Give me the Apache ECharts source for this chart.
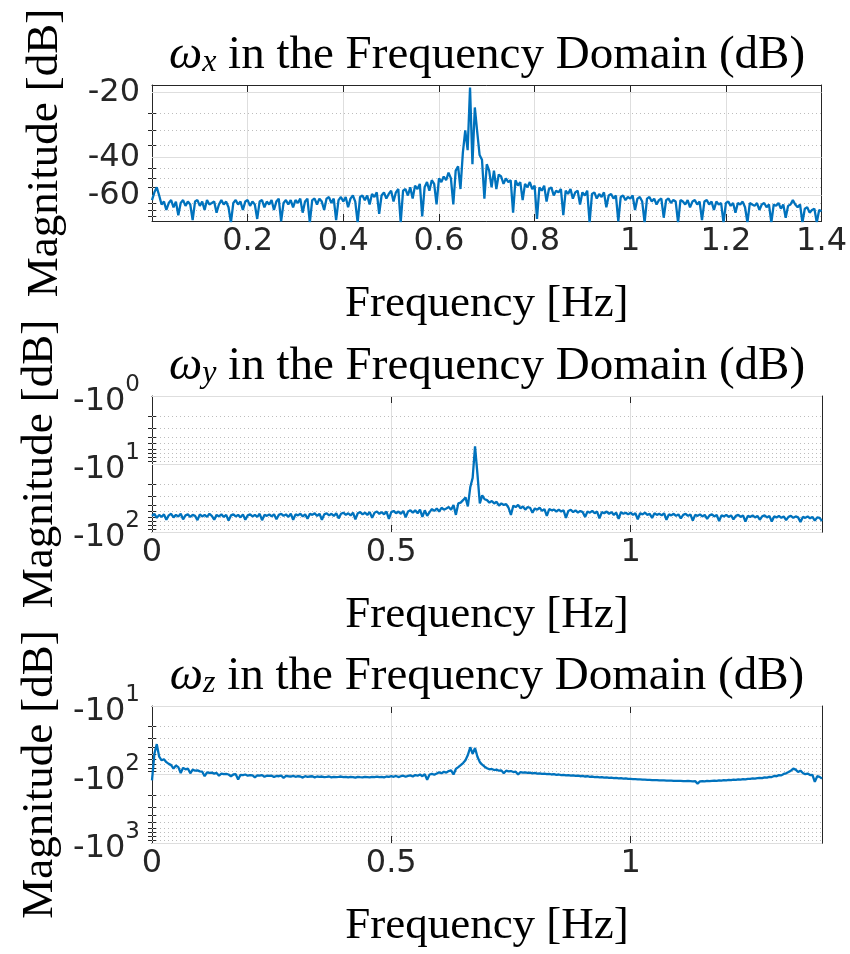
<!DOCTYPE html>
<html>
<head>
<meta charset="utf-8">
<script src="https://cdn.jsdelivr.net/npm/echarts@6/dist/echarts.min.js"></script>
<style>
html,body{margin:0;padding:0;background:#ffffff;}
#chart{width:850px;height:954px;}
</style>
</head>
<body>
<div id="chart"></div>
<script>
// ---------------- DATA ----------------
// frequency bin spacing (Hz)
const DF = 0.005;

// omega_x magnitude (dB), one value per frequency bin from 0 to 1.4 Hz
const wxDb = [
  -63, -58, -55, -60, -66, -64, -70, -65, -63, -68,
  -64, -74, -65, -63, -67, -64, -66, -78, -64, -63,
  -67, -64, -70, -63, -66, -65, -64, -72, -66, -63,
  -66, -64, -68, -80, -65, -63, -66, -64, -70, -64,
  -63, -67, -64, -66, -77, -64, -63, -68, -64, -66,
  -63, -70, -64, -62, -79, -65, -63, -66, -63, -68,
  -63, -65, -62, -72, -64, -62, -80, -63, -62, -66,
  -62, -64, -70, -62, -61, -65, -62, -78, -63, -61,
  -64, -61, -68, -62, -60, -64, -80, -61, -60, -63,
  -60, -66, -59, -61, -58, -73, -60, -58, -62, -59,
  -57, -64, -58, -56, -80, -57, -56, -60, -55, -62,
  -54, -56, -53, -75, -55, -52, -57, -51, -53, -66,
  -50, -52, -49, -51, -47, -50, -66, -46, -44, -56,
  -38, -30, -37, -19, -43, -23.5, -30.5, -39, -41, -62,
  -43, -46, -55, -46, -56, -48, -49, -53, -50, -52,
  -51, -72, -51, -54, -52, -63, -53, -55, -52, -56,
  -54, -77, -55, -57, -54, -64, -56, -55, -60, -57,
  -58, -56, -74, -57, -59, -56, -62, -58, -57, -66,
  -58, -60, -57, -80, -59, -58, -62, -59, -61, -58,
  -68, -60, -59, -62, -60, -79, -61, -60, -63, -61,
  -62, -60, -70, -62, -61, -64, -80, -62, -61, -64,
  -62, -66, -63, -62, -76, -63, -62, -65, -63, -64,
  -80, -63, -64, -66, -63, -68, -64, -63, -66, -64,
  -78, -64, -63, -66, -64, -70, -64, -66, -65, -80,
  -65, -64, -67, -65, -72, -65, -66, -64, -68, -80,
  -65, -66, -67, -65, -70, -66, -65, -68, -66, -80,
  -66, -67, -65, -69, -66, -76, -67, -66, -63, -66,
  -68, -66, -80, -69, -68, -72, -70, -69, -80, -70,
  -71
];

// omega_y magnitude (dB)
const wyDb = [
  -58, -54, -62, -56, -60, -55, -66, -57, -54, -61,
  -56, -59, -54, -65, -57, -55, -60, -56, -58, -67,
  -55, -59, -56, -60, -54, -58, -66, -56, -59, -55,
  -60, -56, -68, -57, -55, -59, -56, -61, -55, -66,
  -57, -55, -59, -56, -60, -54, -67, -56, -58, -55,
  -59, -55, -65, -56, -54, -58, -55, -60, -54, -66,
  -55, -57, -54, -59, -55, -64, -54, -56, -53, -58,
  -54, -66, -55, -53, -57, -54, -58, -53, -63, -54,
  -52, -56, -53, -57, -52, -65, -53, -51, -55, -52,
  -56, -51, -62, -52, -50, -54, -51, -55, -50, -64,
  -51, -49, -53, -50, -54, -49, -61, -50, -48, -52,
  -48, -53, -47, -60, -48, -58, -51, -46, -49, -45,
  -50, -44, -47, -45, -43, -47, -40, -56, -38, -37,
  -34, -31, -42, -22, -16, -5.5, -14, -38, -29, -33,
  -34, -37, -35, -38, -36, -41, -38, -40, -39, -44,
  -56, -41, -43, -40, -45, -42, -47, -43, -44, -52,
  -45, -47, -44, -49, -46, -58, -46, -48, -47, -50,
  -47, -50, -48, -62, -49, -47, -51, -48, -52, -49,
  -51, -60, -50, -52, -49, -53, -50, -63, -51, -53,
  -50, -54, -51, -56, -52, -64, -51, -54, -52, -55,
  -52, -56, -53, -65, -53, -55, -52, -56, -54, -62,
  -53, -56, -54, -57, -53, -66, -55, -57, -54, -58,
  -55, -63, -56, -54, -58, -55, -68, -56, -58, -55,
  -59, -56, -64, -57, -55, -59, -56, -69, -57, -59,
  -56, -60, -57, -65, -58, -56, -60, -57, -70, -58,
  -60, -57, -61, -58, -66, -59, -57, -61, -58, -70,
  -59, -61, -58, -62, -59, -67, -60, -58, -62, -59,
  -61, -71, -60, -62, -59, -63, -60, -68, -61, -62,
  -69
];

// omega_z magnitude (dB)
const wzDb = [
  -122, -50, -36, -55, -62, -60, -66, -70, -73, -82,
  -74, -78, -95, -80, -84, -82, -96, -85, -88, -87,
  -90, -91, -106, -93, -95, -94, -97, -95, -104, -97,
  -99, -98, -100, -106, -100, -99, -118, -101, -102, -100,
  -104, -102, -103, -110, -103, -104, -102, -108, -104, -105,
  -104, -109, -105, -106, -104, -112, -105, -106, -107, -105,
  -108, -106, -107, -111, -106, -108, -107, -106, -110, -107,
  -108, -107, -109, -108, -107, -110, -108, -109, -108, -107,
  -109, -108, -110, -108, -109, -111, -108, -109, -110, -108,
  -109, -110, -108, -109, -107, -109, -108, -110, -107, -108,
  -106, -108, -105, -109, -106, -104, -108, -105, -103, -107,
  -102, -104, -100, -106, -99, -119, -100, -98, -101, -97,
  -93, -96, -91, -94, -89, -87, -100, -83, -78, -73,
  -68, -62, -52, -40, -50, -41, -55, -66, -72, -77,
  -81, -84, -83, -86, -85, -88, -87, -96, -88, -90,
  -89, -92, -91, -100, -92, -94, -93, -95, -94, -96,
  -95, -97, -96, -98, -97, -99, -98, -100, -99, -101,
  -100, -102, -101, -103, -102, -104, -103, -105, -104, -106,
  -105, -107, -106, -108, -107, -109, -108, -110, -109, -111,
  -110, -112, -111, -113, -112, -114, -113, -115, -114, -116,
  -116, -117, -117, -118, -118, -119, -119, -120, -120, -121,
  -121, -121, -122, -122, -122, -123, -123, -123, -124, -124,
  -124, -124, -125, -125, -124, -125, -126, -125, -136, -126,
  -125, -126, -124, -125, -124, -123, -124, -122, -123, -121,
  -122, -120, -121, -119, -120, -118, -119, -117, -118, -116,
  -116, -114, -115, -113, -112, -113, -110, -111, -108, -109,
  -105, -106, -102, -103, -98, -96, -92, -88, -82, -85,
  -92, -88, -95, -99, -97, -102, -101, -128, -106, -108,
  -115
];

// subscripts of the three panel titles
const subscripts = ['x', 'y', 'z'];

// x tick labels (Hz)
const xTicksTop = [0.2, 0.4, 0.6, 0.8, 1, 1.2, 1.4];
const xTicksLow = [0, 0.5, 1];
const xRange = [0, 1.4];

// y ticks (dB, negative log axes)
const yMajorTop = [-20, -40, -60];
const yMinorTop = [-25, -30, -35, -45, -50, -55, -65, -70, -75];
const yRangeTop = [-18.5, -78.7];
const yMajorMid = [-1, -10, -100];
const yMinorMid = [-2, -3, -4, -5, -6, -7, -8, -9, -20, -30, -40, -50, -60, -70, -80, -90];
const yRangeMid = [-1, -100];
const yMajorBot = [-10, -100, -1000];
const yMinorBot = [-20, -30, -40, -50, -60, -70, -80, -90, -200, -300, -400, -500, -600, -700, -800, -900];
const yRangeBot = [-10, -1000];

// ---------------- STYLE / LAYOUT ----------------
const SANS = '"DejaVu Sans", "Liberation Sans", Arial, sans-serif';
const SERIF = '"Liberation Serif", "DejaVu Serif", serif';
const AX = '#262626';
const LINE = '#0072BD';
const GRID_MAJOR = '#dedede';
const GRID_MINOR = '#bdbdbd';
const TICK_FS = 32;
const NAME_FS = 45;
const TITLE_FS = 47;

const layout = [
  { top: 85, height: 136 },
  { top: 396, height: 136 },
  { top: 706, height: 137 }
];

const panels = [
  { sub: subscripts[0], db: wxDb, xTicks: xTicksTop, xInterval: 0.2, yMajor: yMajorTop, yMinor: yMinorTop, yRange: yRangeTop, pow: false },
  { sub: subscripts[1], db: wyDb, xTicks: xTicksLow, xInterval: 0.5, yMajor: yMajorMid, yMinor: yMinorMid, yRange: yRangeMid, pow: true },
  { sub: subscripts[2], db: wzDb, xTicks: xTicksLow, xInterval: 0.5, yMajor: yMajorBot, yMinor: yMinorBot, yRange: yRangeBot, pow: true }
];

const absArr = a => a.map(v => Math.abs(v));
const fmtX = v => String(+(+v).toFixed(2));
const fmtPlain = v => '-' + Math.round(v);
const fmtPow = v => '{b|-10}{s|' + Math.round(Math.log10(v)) + '}';

const grids = [], xAxes = [], yAxes = [], series = [], titles = [];

panels.forEach((p, k) => {
  const L = layout[k];
  grids.push({ left: 152, right: 28, top: L.top, height: L.height, containLabel: false });

  const xBase = { type: 'value', gridIndex: k, min: xRange[0], max: xRange[1], interval: p.xInterval };
  xAxes.push(Object.assign({}, xBase, {
    position: 'bottom',
    axisLine: { show: true, onZero: false, lineStyle: { color: AX, width: 1 } },
    axisTick: { show: true, inside: true, length: 7, customValues: p.xTicks, lineStyle: { color: AX, width: 1 } },
    axisLabel: { show: true, customValues: p.xTicks, formatter: fmtX, color: AX, fontFamily: SANS, fontSize: TICK_FS, margin: 5 },
    splitLine: { show: true, lineStyle: { color: GRID_MAJOR, width: 1 } },
    name: 'Frequency [Hz]', nameLocation: 'middle', nameGap: 61,
    nameTextStyle: { fontFamily: SERIF, fontSize: NAME_FS, color: '#000', lineHeight: 45 }
  }));
  xAxes.push(Object.assign({}, xBase, {
    position: 'top',
    axisLine: { show: true, onZero: false, lineStyle: { color: AX, width: 1 } },
    axisTick: { show: true, inside: true, length: 7, customValues: p.xTicks, lineStyle: { color: AX, width: 1 } },
    axisLabel: { show: false },
    splitLine: { show: false }
  }));

  const yBase = { type: 'log', logBase: 10, gridIndex: k, inverse: true,
                  min: Math.abs(p.yRange[0]), max: Math.abs(p.yRange[1]) };
  const major = absArr(p.yMajor), minor = absArr(p.yMinor);
  const rich = {
    b: { fontFamily: SANS, fontSize: TICK_FS, lineHeight: 32, padding: [12, 0, 0, 0], color: AX },
    s: { fontFamily: SANS, fontSize: 23, lineHeight: 23, padding: [0, 0, 21, 0], color: AX }
  };
  yAxes.push(Object.assign({}, yBase, {
    position: 'left',
    axisLine: { show: true, onZero: false, lineStyle: { color: AX, width: 1 } },
    axisTick: { show: true, inside: true, length: 7, customValues: major, lineStyle: { color: AX, width: 1 } },
    axisLabel: { show: true, customValues: major, formatter: p.pow ? fmtPow : fmtPlain, rich: rich,
                 color: AX, fontFamily: SANS, fontSize: TICK_FS, margin: 12 },
    splitLine: { show: false },
    name: 'Magnitude [dB]', nameLocation: 'middle', nameGap: 84, nameRotate: 90,
    nameTextStyle: { fontFamily: SERIF, fontSize: NAME_FS, color: '#000', lineHeight: 45 }
  }));
  yAxes.push(Object.assign({}, yBase, {
    position: 'left',
    axisLine: { show: false },
    axisTick: { show: true, inside: true, length: 4, customValues: minor, lineStyle: { color: AX, width: 1 } },
    axisLabel: { show: false }, splitLine: { show: false }
  }));
  yAxes.push(Object.assign({}, yBase, {
    position: 'right',
    axisLine: { show: true, onZero: false, lineStyle: { color: AX, width: 1 } },
    axisTick: { show: true, inside: true, length: 7, customValues: major, lineStyle: { color: AX, width: 1 } },
    axisLabel: { show: false }, splitLine: { show: false }
  }));
  yAxes.push(Object.assign({}, yBase, {
    position: 'right',
    axisLine: { show: false },
    axisTick: { show: true, inside: true, length: 4, customValues: minor, lineStyle: { color: AX, width: 1 } },
    axisLabel: { show: false }, splitLine: { show: false }
  }));

  const pts = p.db.map((v, i) => [+(i * DF).toFixed(3), Math.abs(v)]);
  const gridLines = []
    .concat(major.map(v => ({ yAxis: v, lineStyle: { type: 'solid', color: GRID_MAJOR, width: 1 } })))
    .concat(minor.map(v => ({ yAxis: v, lineStyle: { type: [1, 3], color: GRID_MINOR, width: 1 } })));

  series.push({
    type: 'line', name: 'omega_' + p.sub,
    xAxisIndex: 2 * k, yAxisIndex: 4 * k,
    data: pts, showSymbol: false, symbol: 'none', clip: true, z: 3,
    lineStyle: { color: LINE, width: 2.3 },
    markLine: { silent: true, symbol: ['none', 'none'], z: 1, animation: false,
                label: { show: false }, data: gridLines }
  });

  titles.push({
    text: '{w|\u03c9}{s|' + p.sub + '}{t| in the Frequency Domain (dB)}',
    left: 487, top: L.top - 53, textAlign: 'center', padding: 0,
    textStyle: {
      fontWeight: 'normal',
      rich: {
        w: { fontFamily: SERIF, fontStyle: 'italic', fontWeight: 'normal', fontSize: TITLE_FS, lineHeight: 47, color: '#000' },
        s: { fontFamily: SERIF, fontStyle: 'italic', fontWeight: 'normal', fontSize: 32, lineHeight: 32, padding: [15, 0, 0, 0], color: '#000' },
        t: { fontFamily: SERIF, fontWeight: 'normal', fontSize: TITLE_FS, lineHeight: 47, color: '#000' }
      }
    }
  });
});

const chart = echarts.init(document.getElementById('chart'), null, { renderer: 'canvas' });
chart.setOption({
  backgroundColor: '#ffffff',
  animation: false,
  title: titles,
  grid: grids,
  xAxis: xAxes,
  yAxis: yAxes,
  series: series
});
</script>
</body>
</html>
